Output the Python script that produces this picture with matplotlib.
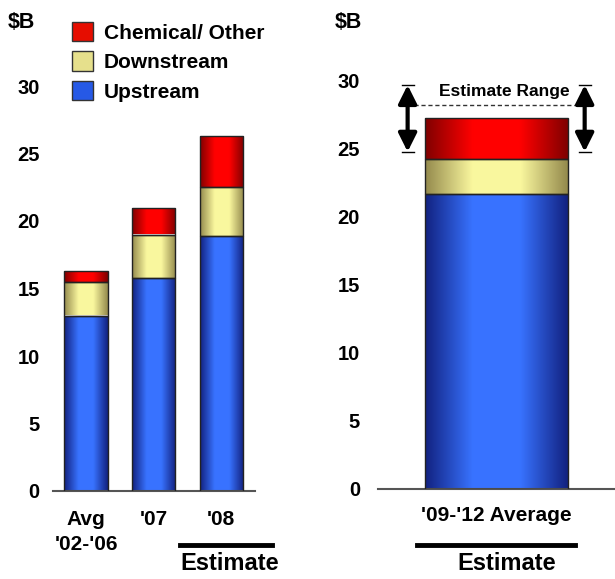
import numpy as np
import matplotlib
matplotlib.use("Agg")
import matplotlib.pyplot as plt
from matplotlib.colors import LinearSegmentedColormap
from matplotlib.patches import Patch

plt.rcParams['font.family'] = ['Liberation Sans', 'DejaVu Sans']
plt.rcParams['font.weight'] = 'bold'

# ---- data ----
categories = ["Avg\n'02-'06", "'07", "'08"]
upstream = [13.0, 15.8, 18.9]
downstream = [2.5, 3.2, 3.6]
chemical = [0.8, 2.0, 3.8]

avg_category = ["'09-'12 Average"]
avg_upstream = [21.7]
avg_downstream = [2.6]
avg_chemical = [3.0]
range_low, range_high = 24.8, 29.7
range_mid = 28.2

series_names = ["Upstream", "Downstream", "Chemical/ Other"]
yticks = [0, 5, 10, 15, 20, 25, 30]

# ---- style ----
W, H = 615, 579
colors_center = {"Upstream": (0.22, 0.45, 1.0), "Downstream": (0.98, 0.97, 0.62),
                 "Chemical/ Other": (1.0, 0.0, 0.0)}
colors_edge = {"Upstream": (0.07, 0.13, 0.50), "Downstream": (0.58, 0.54, 0.30),
               "Chemical/ Other": (0.50, 0.0, 0.0)}
legend_colors = {"Upstream": (0.15, 0.35, 0.90), "Downstream": (0.90, 0.88, 0.55),
                 "Chemical/ Other": (0.90, 0.05, 0.0)}

def cmap_for(name):
    e = colors_edge[name]; c = colors_center[name]
    return LinearSegmentedColormap.from_list(name, [e, c, c, e], N=256)

grad = np.linspace(0, 1, 256).reshape(1, -1)

def draw_stack(ax, xs, width, stacks):
    bottoms = np.zeros(len(xs))
    for name, vals in stacks:
        bars = ax.bar(xs, vals, width, bottom=bottoms, color='none',
                      edgecolor='#222222', linewidth=1.0, zorder=3)
        for b in bars:
            x0, y0 = b.get_x(), b.get_y()
            im = ax.imshow(grad, aspect='auto', cmap=cmap_for(name),
                           extent=[x0, x0 + b.get_width(), y0, y0 + b.get_height()],
                           interpolation='bicubic', zorder=2)
            im.set_clip_path(b)
        bottoms = bottoms + np.array(vals)

fig = plt.figure(figsize=(W / 100, H / 100), dpi=100)

def fx(px):
    return px / W

def fy(py):
    return 1 - py / H

# left axes
ppu = 13.5
ytop_val = 32
axL = fig.add_axes([fx(53), fy(491), fx(255) - fx(53), (ytop_val * ppu) / H])
xs = np.arange(len(categories))
draw_stack(axL, xs, 0.64, [("Upstream", upstream), ("Downstream", downstream),
                           ("Chemical/ Other", chemical)])
axL.set_xlim(-0.49, 2.5)
axL.set_ylim(0, ytop_val)

# right axes
ppu2 = 13.6
axR = fig.add_axes([fx(378), fy(489), 1 - fx(378), (ytop_val * ppu2) / H])
draw_stack(axR, [0], 0.6, [("Upstream", avg_upstream), ("Downstream", avg_downstream),
                           ("Chemical/ Other", avg_chemical)])
axR.set_xlim(-0.5, 0.5)
axR.set_ylim(0, ytop_val)

for ax, ypad in ((axL, 9.5), (axR, 13)):
    for s in ['left', 'right', 'top']:
        ax.spines[s].set_visible(False)
    ax.spines['bottom'].set_color('#555555')
    ax.spines['bottom'].set_linewidth(1.5)
    ax.set_yticks(yticks)
    ax.tick_params(axis='y', length=0, pad=ypad, labelsize=14.5)
    ax.tick_params(axis='x', length=0, labelsize=15)
    for lab in ax.get_yticklabels():
        lab.set_fontweight('bold')
    ax.patch.set_alpha(0)

axL.set_xticks(xs)
axL.set_xticklabels(categories, fontweight='bold', linespacing=1.4)
axL.tick_params(axis='x', pad=14)
axR.set_xticks([0])
axR.set_xticklabels(avg_category, fontweight='bold')
axR.tick_params(axis='x', pad=12)

# estimate range arrows
for xa in (-0.375, 0.372):
    axR.annotate('', xy=(xa, range_low), xytext=(xa, range_high),
                 arrowprops=dict(arrowstyle='<|-|>,head_length=1.1,head_width=0.55',
                                 color='black', lw=3.0, shrinkA=0, shrinkB=0),
                 zorder=5)
    for yv in (range_low, range_high):
        axR.plot([xa - 0.025, xa + 0.025], [yv, yv], color='black', lw=1.0, zorder=5)
axR.plot([-0.35, 0.355], [range_mid, range_mid], ls=(0, (3, 2)), color='#333333',
         lw=1.0, zorder=4)
axR.text(0.035, range_mid + 0.45, 'Estimate Range', ha='center', va='bottom',
         fontsize=12.5, fontweight='bold')

# $B labels
fig.text(fx(8), fy(22), '$B', ha='left', va='center', fontsize=15.5, fontweight='bold')
fig.text(fx(335), fy(22), '$B', ha='left', va='center', fontsize=15.5, fontweight='bold')

# legend
handles = [Patch(facecolor=legend_colors[n], edgecolor='#333333', linewidth=1.0)
           for n in series_names[::-1]]
fig.legend(handles, series_names[::-1], loc='upper left',
           bbox_to_anchor=(fx(53), fy(3)), frameon=False,
           handlelength=1.0, handleheight=1.05, labelspacing=0.42, handletextpad=0.55,
           prop={'weight': 'bold', 'size': 15})

# estimate underlines
fig.add_artist(plt.Line2D([fx(180), fx(272)], [fy(545), fy(545)], color='black', lw=3.5))
fig.text(fx(230), fy(563), 'Estimate', ha='center', va='center', fontsize=17, fontweight='bold')
fig.add_artist(plt.Line2D([fx(417), fx(575)], [fy(545), fy(545)], color='black', lw=3.5))
fig.text(fx(507), fy(563), 'Estimate', ha='center', va='center', fontsize=17, fontweight='bold')

fig.savefig('out.png', dpi=100)
